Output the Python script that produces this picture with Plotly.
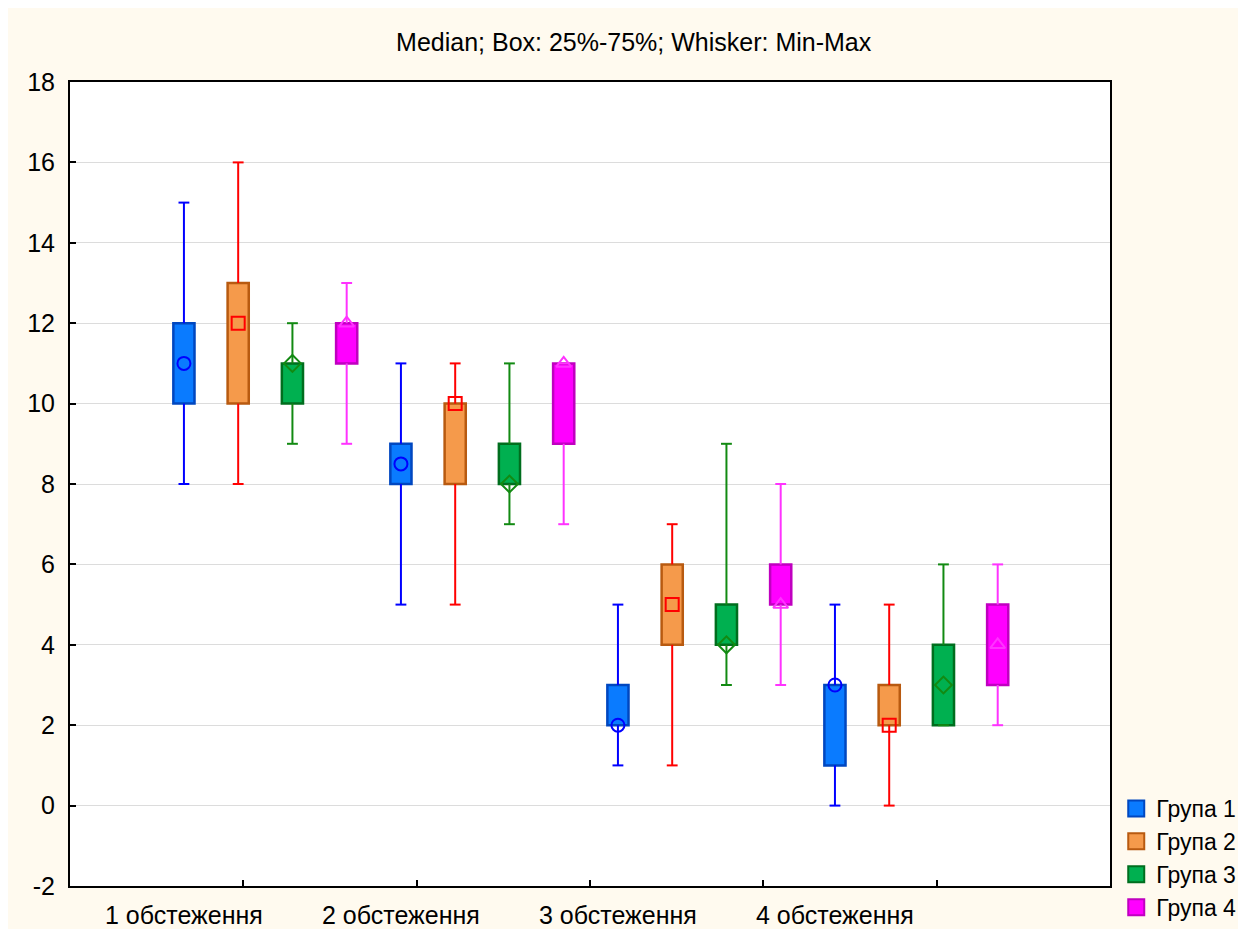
import plotly.graph_objects as go

categories = ["1 обстеження", "2 обстеження", "3 обстеження", "4 обстеження"]
groups = ["Група 1", "Група 2", "Група 3", "Група 4"]

# per group: values for the 4 examinations
mins = {
    "Група 1": [8, 5, 1, 0],
    "Група 2": [8, 5, 1, 0],
    "Група 3": [9, 7, 3, 2],
    "Група 4": [9, 7, 3, 2],
}
q1s = {
    "Група 1": [10, 8, 2, 1],
    "Група 2": [10, 8, 4, 2],
    "Група 3": [10, 8, 4, 2],
    "Група 4": [11, 9, 5, 3],
}
medians = {
    "Група 1": [11, 8.5, 2, 3],
    "Група 2": [12, 10, 5, 2],
    "Група 3": [11, 8, 4, 3],
    "Група 4": [12, 11, 5, 4],
}
q3s = {
    "Група 1": [12, 9, 3, 3],
    "Група 2": [13, 10, 6, 3],
    "Група 3": [11, 9, 5, 4],
    "Група 4": [12, 11, 6, 5],
}
maxs = {
    "Група 1": [15, 11, 5, 5],
    "Група 2": [16, 11, 7, 5],
    "Група 3": [12, 11, 9, 6],
    "Група 4": [13, 11, 8, 6],
}

y_ticks = [-2, 0, 2, 4, 6, 8, 10, 12, 14, 16, 18]

fill_colors = ["#0A7BFF", "#F59A4B", "#00B050", "#FF00FF"]
border_colors = ["#0047C0", "#B85A10", "#006E1E", "#C000C0"]
whisker_colors = ["#0000FF", "#FF0000", "#128A12", "#FF33FF"]
marker_symbols = ["circle-open", "square-open", "diamond-open", "triangle-up-open"]

X_MAX = 19.17
BASE = 2.1
BOX_W = 0.39
CAP = 0.1

fig = go.Figure()

for j, g in enumerate(groups):
    xs = [BASE + 4 * i + j for i in range(len(categories))]
    # whiskers
    wx, wy = [], []
    for i, x in enumerate(xs):
        wx += [x, x, None, x, x, None, x - CAP, x + CAP, None, x - CAP, x + CAP, None]
        wy += [mins[g][i], q1s[g][i], None, q3s[g][i], maxs[g][i], None,
               mins[g][i], mins[g][i], None, maxs[g][i], maxs[g][i], None]
    fig.add_trace(go.Scatter(x=wx, y=wy, mode="lines",
                             line=dict(color=whisker_colors[j], width=2),
                             showlegend=False, hoverinfo="skip", connectgaps=False))
    # boxes
    fig.add_trace(go.Bar(x=xs, y=[q3s[g][i] - q1s[g][i] for i in range(len(xs))],
                         base=q1s[g], width=BOX_W, name=g, showlegend=False,
                         marker=dict(color=fill_colors[j],
                                     line=dict(color=border_colors[j], width=2.5))))
    # medians
    fig.add_trace(go.Scatter(x=xs, y=medians[g], mode="markers",
                             marker=dict(symbol=marker_symbols[j], size=13,
                                         color=whisker_colors[j],
                                         line=dict(color=whisker_colors[j], width=2)),
                             showlegend=False))
    # legend entry (box-like swatch)
    fig.add_trace(go.Scatter(x=[None], y=[None], mode="markers", name=g,
                             marker=dict(symbol="square", size=16, color=fill_colors[j],
                                         line=dict(color=border_colors[j], width=2))))

# axis tick marks (Statistica style) and category labels
tick_positions = [X_MAX * k / 6 for k in range(1, 6)]
label_positions = [BASE + 4 * i for i in range(len(categories))]

fig.add_trace(go.Scatter(x=label_positions, y=[None] * 4, xaxis="x2", showlegend=False,
                         hoverinfo="skip"))

font = "Liberation Sans, Arial, sans-serif"
FS = 25
fig.update_layout(
    width=1230, height=921,
    paper_bgcolor="#FFFAEF", plot_bgcolor="#FFFFFF",
    margin=dict(l=62, r=128, t=74, b=43, autoexpand=False),
    barmode="overlay",
    font=dict(family=font, size=FS, color="#000000"),
    title=dict(text="Median; Box: 25%-75%; Whisker: Min-Max",
               x=0.542, xref="paper", xanchor="center",
               y=1 - 34 / 921, yref="container", yanchor="middle",
               font=dict(size=FS)),
    xaxis=dict(range=[0, X_MAX], tickvals=tick_positions, ticktext=[""] * 5,
               ticks="inside", ticklen=6, tickcolor="#000", tickwidth=1.5,
               showgrid=False, zeroline=False, automargin=False,
               showline=True, linecolor="#000", linewidth=2, mirror=True),
    xaxis2=dict(range=[0, X_MAX], overlaying="x", side="bottom", anchor="y",
                tickvals=label_positions, ticktext=categories, ticks="",
                showgrid=False, zeroline=False, showline=False, automargin=False,
                ticklabelstandoff=12, tickfont=dict(size=FS)),
    yaxis=dict(range=[-2, 18], tickvals=y_ticks, ticktext=[str(v) for v in y_ticks],
               ticks="inside", ticklen=6, tickcolor="#000", tickwidth=1.5,
               showgrid=True, gridcolor="#DCDCDC", gridwidth=1, zeroline=False,
               showline=True, linecolor="#000", linewidth=2, mirror=True, automargin=False,
               ticklabelstandoff=8, tickfont=dict(size=FS)),
    legend=dict(x=1.006, y=0.0, xanchor="left", yanchor="bottom", yref="container",
                bgcolor="rgba(0,0,0,0)", font=dict(size=23),
                tracegroupgap=0, itemwidth=30, itemsizing="trace"),
    showlegend=True,
)

fig.write_html("out.html")
